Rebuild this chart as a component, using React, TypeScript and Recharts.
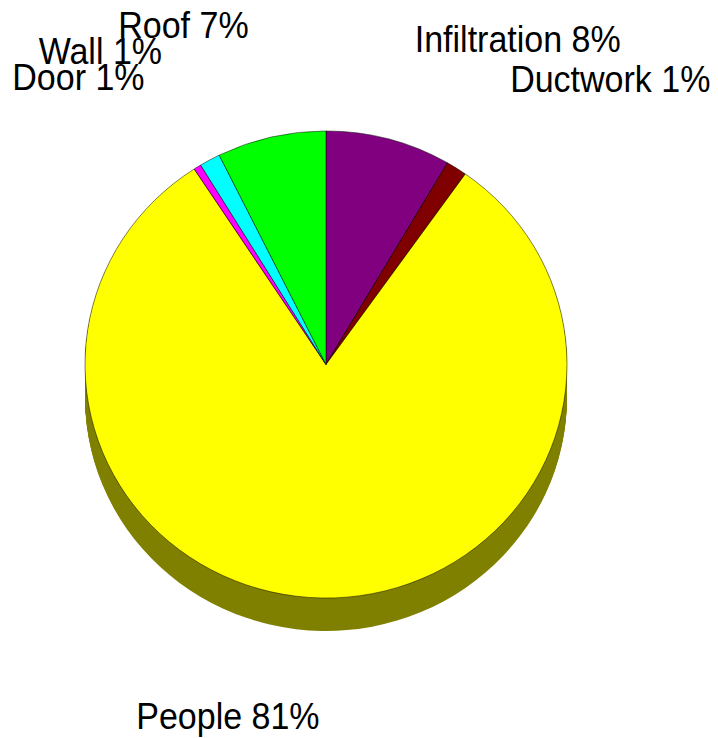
import React from "react";
import { PieChart, Pie, Cell } from "recharts";

// load shares, clockwise from 12 o'clock
const names = ["Infiltration", "Ductwork", "People", "Door", "Wall", "Roof"];
const shares = [8.4, 1.4, 80.9, 0.5, 1.4, 7.3];

const topColors = ["#800080", "#800000", "#FFFF00", "#FF00FF", "#00FFFF", "#00FF00"];
const sideColors = ["#400040", "#400000", "#808000", "#800080", "#008080", "#008000"];

const data = names.map((name, i) => ({ name, value: shares[i] }));

const CX = 326;
const CY = 364.5;
const RADIUS = 241;
const DEPTH = 34;
const SQUASH = 0.969;
const LABEL_RADIUS = 340;

// small vertical nudges so the labels sit where they do in the original
const LABEL_NUDGE: Record<string, number> = {
  Roof: -8,
  Wall: -16,
  Infiltration: 3,
  People: 12,
};

const layers = Array.from({ length: DEPTH }, (_, i) => DEPTH - i);

const renderLabel = ({ cx, cy, midAngle, percent, name }: any) => {
  const RADIAN = Math.PI / 180;
  const x = cx + LABEL_RADIUS * Math.cos(-midAngle * RADIAN);
  const y = cy + LABEL_RADIUS * Math.sin(-midAngle * RADIAN) + (LABEL_NUDGE[name] ?? 0);
  return (
    <text
      x={0}
      y={0}
      transform={`translate(${x},${y}) scale(1,1.07)`}
      fill="#000"
      textAnchor={x > cx ? "start" : "end"}
      dominantBaseline="central"
      fontSize={34}
      fontFamily="'Liberation Sans', Arial, sans-serif"
    >
      {`${name} ${Math.round(percent * 100)}%`}
    </text>
  );
};

export default function App() {
  const shift = CY * (1 - SQUASH);
  return (
    <div style={{ position: "absolute", left: 0, top: 0, width: 718, height: 738, background: "#fff" }}>
      <style>{`.squash { transform: translateY(${shift}px) scaleY(${SQUASH}); } .squash .squash { transform: none; }`}</style>
      <PieChart width={718} height={738} margin={{ top: 0, right: 0, bottom: 0, left: 0 }}>
        {layers.map((d) => (
          <Pie
            key={`side-${d}`}
            className="squash"
            data={data}
            dataKey="value"
            cx={CX}
            cy={CY + d}
            outerRadius={RADIUS}
            startAngle={90}
            endAngle={-270}
            stroke="none"
            labelLine={false}
            isAnimationActive={false}
          >
            {data.map((entry, i) => (
              <Cell key={`s-${d}-${i}`} fill={sideColors[i]} />
            ))}
          </Pie>
        ))}
        <Pie
          className="squash"
          data={data}
          dataKey="value"
          cx={CX}
          cy={CY}
          outerRadius={RADIUS}
          startAngle={90}
          endAngle={-270}
          stroke="#000"
          strokeWidth={0.5}
          labelLine={false}
          isAnimationActive={false}
        >
          {data.map((entry, i) => (
            <Cell key={`t-${i}`} fill={topColors[i]} />
          ))}
        </Pie>
        <Pie
          data={data}
          dataKey="value"
          cx={CX}
          cy={CY}
          outerRadius={RADIUS}
          startAngle={90}
          endAngle={-270}
          fill="none"
          stroke="none"
          labelLine={false}
          label={renderLabel}
          isAnimationActive={false}
        />
      </PieChart>
    </div>
  );
}
